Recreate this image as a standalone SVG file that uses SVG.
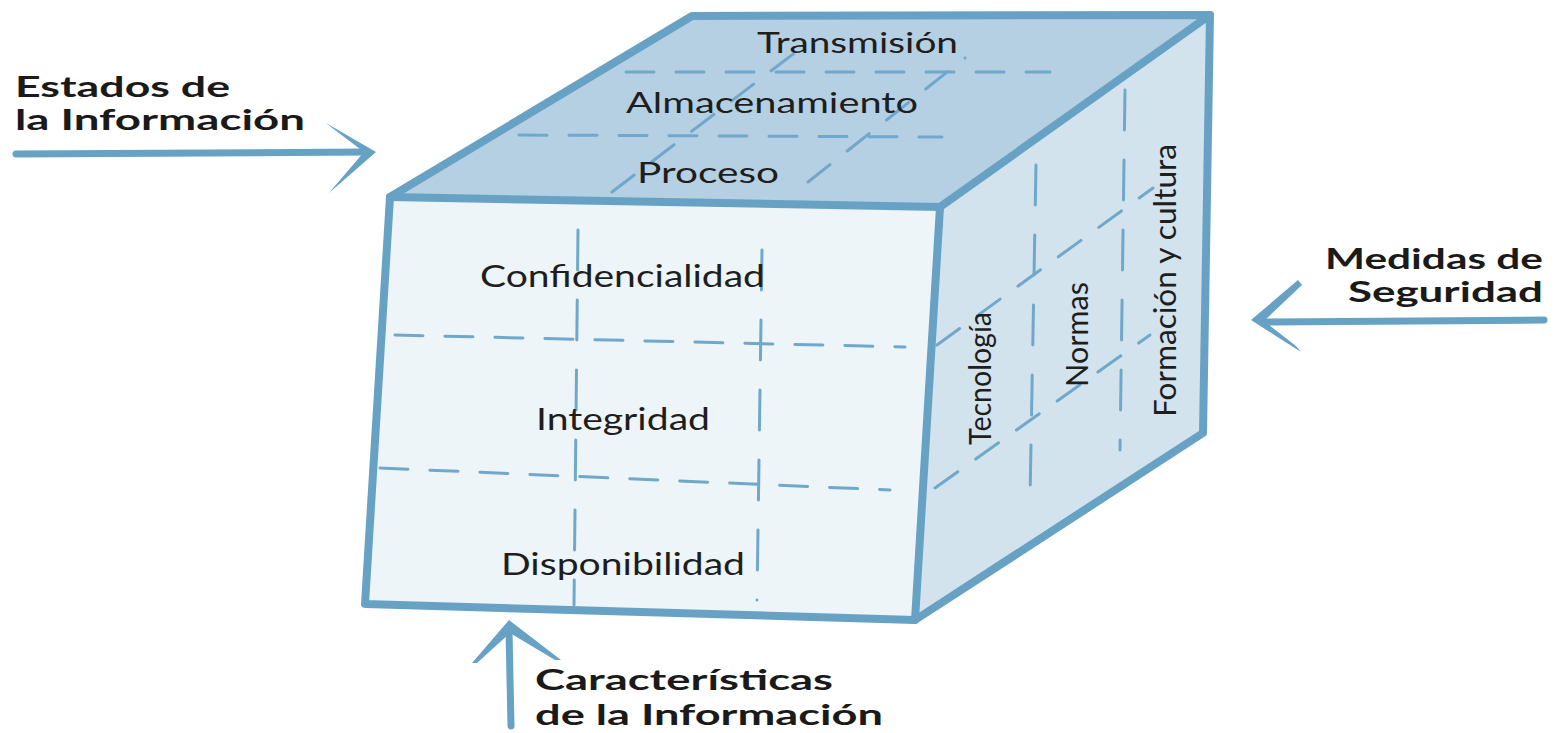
<svg xmlns="http://www.w3.org/2000/svg" width="1556" height="733" viewBox="0 0 1556 733">
<style>
.edge{fill:none;stroke:#67a2c5;stroke-width:8;stroke-linejoin:round;stroke-linecap:round}
.dash{fill:none;stroke:#6fa8ca;stroke-width:3;stroke-dasharray:28 22;stroke-linecap:round}
.vdash{fill:none;stroke:#6fa8ca;stroke-width:3;stroke-dasharray:40 30;stroke-linecap:round}
.lbl{font-family:Lato,"Open Sans","Liberation Sans",sans-serif;fill:#1e1e1e}
.big{font-family:Lato,"Open Sans","Liberation Sans",sans-serif;font-weight:bold;font-size:29px;fill:#1a1a1a}
.arrow{fill:none;stroke:#67a2c5;stroke-width:7;stroke-linecap:round}
.head{fill:#67a2c5}
</style>
<rect width="1556" height="733" fill="#ffffff"/>
<g id="cube">
  <g id="top-face">
    <polygon points="390,197 692,16 1210,15 940,207" fill="#b5cfe3"/>
    <line class="dash" x1="626" y1="72" x2="1050" y2="72"/>
    <line class="dash" x1="519" y1="135" x2="942" y2="137"/>
    <line class="dash" x1="612" y1="192" x2="805" y2="45"/>
    <line class="dash" x1="808" y1="182" x2="965" y2="58"/>
    <text class="lbl" x="757" y="53" font-size="29" textLength="201" lengthAdjust="spacingAndGlyphs">Transmisión</text>
    <text class="lbl" x="626" y="113" font-size="29" textLength="292" lengthAdjust="spacingAndGlyphs">Almacenamiento</text>
    <text class="lbl" x="637" y="183" font-size="29" textLength="142" lengthAdjust="spacingAndGlyphs">Proceso</text>
  </g>
  <g id="front-face">
    <polygon points="390,197 940,207 915,620 365,604" fill="#edf5f8"/>
    <line class="dash" x1="395" y1="335" x2="905" y2="347"/>
    <line class="dash" x1="380" y1="468" x2="890" y2="490"/>
    <line class="vdash" x1="578" y1="230" x2="574" y2="605"/>
    <line class="vdash" x1="762" y1="250" x2="757" y2="600"/>
    <text class="lbl" x="480" y="287" font-size="30" textLength="285" lengthAdjust="spacingAndGlyphs">Confidencialidad</text>
    <text class="lbl" x="536" y="430" font-size="30" textLength="174" lengthAdjust="spacingAndGlyphs">Integridad</text>
    <text class="lbl" x="501" y="575" font-size="30" textLength="244" lengthAdjust="spacingAndGlyphs">Disponibilidad</text>
  </g>
  <g id="right-face">
    <polygon points="940,207 1210,15 1203,433 915,620" fill="#d2e3ee"/>
    <line class="vdash" x1="1036" y1="165" x2="1030" y2="500"/>
    <line class="vdash" x1="1125" y1="90" x2="1120" y2="450"/>
    <line class="dash" x1="937" y1="345" x2="1153" y2="188"/>
    <line class="dash" x1="935" y1="488" x2="1150" y2="335"/>
    <text class="lbl" font-size="31" transform="translate(991,445) rotate(-90)" textLength="133" lengthAdjust="spacingAndGlyphs">Tecnología</text>
    <text class="lbl" font-size="31" transform="translate(1088,387) rotate(-90)" textLength="105" lengthAdjust="spacingAndGlyphs">Normas</text>
    <text class="lbl" font-size="31" transform="translate(1176,417) rotate(-90)" textLength="273" lengthAdjust="spacingAndGlyphs">Formación y cultura</text>
  </g>
  <g id="cube-edges">
    <polygon class="edge" points="390,197 692,16 1210,15 1203,433 915,620 365,604"/>
    <polyline class="edge" points="390,197 940,207 1210,15"/>
    <line class="edge" x1="940" y1="207" x2="915" y2="620"/>
  </g>
</g>
<g id="label-estados">
  <text class="big" x="15" y="97" textLength="215" lengthAdjust="spacingAndGlyphs">Estados de</text>
  <text class="big" x="15" y="130" textLength="290" lengthAdjust="spacingAndGlyphs">la Información</text>
</g>
<g id="label-medidas">
  <text class="big" x="1325" y="269" textLength="218" lengthAdjust="spacingAndGlyphs">Medidas de</text>
  <text class="big" x="1348" y="302" textLength="195" lengthAdjust="spacingAndGlyphs">Seguridad</text>
</g>
<g id="label-caracteristicas">
  <text class="big" x="535" y="690" textLength="298" lengthAdjust="spacingAndGlyphs">Características</text>
  <text class="big" x="535" y="725" textLength="348" lengthAdjust="spacingAndGlyphs">de la Información</text>
</g>
<g id="connectors">
  <line class="arrow" x1="16" y1="154" x2="366" y2="152"/>
  <polygon class="head" points="326,123 376,152 329,193 334,187 364,152 331,127"/>
  <line class="arrow" x1="1544" y1="320" x2="1262" y2="322"/>
  <polygon class="head" points="1298,280 1251,320 1301,352 1296,346 1264,321 1302,285"/>
  <line class="arrow" x1="511" y1="726" x2="509" y2="630"/>
  <polygon class="head" points="472,663 509,620 561,660 555,660 510,633 477,663"/>
</g>
</svg>
